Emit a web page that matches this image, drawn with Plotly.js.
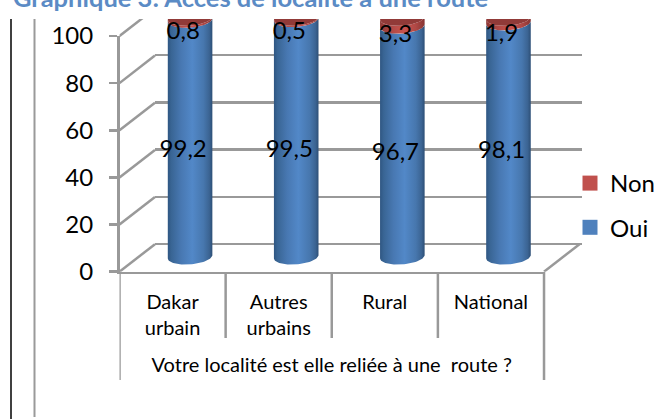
<!DOCTYPE html>
<html>
<head>
<meta charset="utf-8">
<script src="https://cdn.plot.ly/plotly-3.0.1.min.js"></script>
<style>html,body{margin:0;padding:0;background:#fff}</style>
</head>
<body>
<div id="chart" style="width:667px;height:419px"></div>
<script>
const categories = ["Dakar<br>urbain", "Autres<br>urbains", "Rural", "National"];
const oui = [99.2, 99.5, 96.7, 98.1];
const non = [0.8, 0.5, 3.3, 1.9];
const ouiLabels = ["99,2", "99,5", "96,7", "98,1"];
const nonLabels = ["0,8", "0,5", "3,3", "1,9"];
const yTicks = [0, 20, 40, 60, 80, 100];
const gridValues = [0, 20, 40, 60, 80];
const diagonalValues = [0, 20, 40, 60, 80, 100];

const W = 667, H = 419;
const fy = p => 1 - p / H;            // pixel row -> paper
const fx = p => p / W;                // pixel col -> paper
const FONT = "Lato, Carlito, sans-serif";
const GRID = "#999999";
const blueScale = [[0,"#2f5682"],[0.08,"#396594"],[0.3,"#4878b2"],[0.55,"#5288c8"],[0.8,"#4777ae"],[0.93,"#3b6493"],[1,"#2d4f76"]];
const redScale  = [[0,"#8e3836"],[0.3,"#b44a47"],[0.55,"#c8534f"],[0.8,"#b04845"],[1,"#863533"]];
const discColor = "#913a38";

// depth of the 3D box, in frame units
const depthX = 0.334, depthY = 11.67;
const cylShift = 0.165, cylA = 0.21, cylB = 3.2, cylTilt = 0.7;
const labelShift = -0.065, ouiDrop = 5.3, nonDrop = 6.0;

function halfEllipse(cx, v) {           // right -> left along the front edge
  const xs = [], ys = [];
  for (let k = 0; k <= 40; k++) {
    const t = Math.PI * k / 40;
    xs.push(cx + cylA * Math.cos(t));
    ys.push(v - cylB * Math.sin(t) + cylTilt * Math.cos(t));
  }
  return [xs, ys];
}
function sidePolygon(cx, v0, v1) {
  const [bx, by] = halfEllipse(cx, v0);
  const [tx, ty] = halfEllipse(cx, v1);
  return {x: [...bx.slice().reverse(), ...tx], y: [...by.slice().reverse(), ...ty]};
}
function disc(cx, v) {
  const [bx, by] = halfEllipse(cx, v);
  const uy = by.map((y, i) => y + 2 * cylB * Math.sin(Math.PI * i / 40));
  return {x: [...bx, ...bx.slice().reverse()], y: [...by, ...uy.slice().reverse()]};
}

const traces = [];
// main subplot (front plane with the value and category axes)
traces.push({type:"scatter", mode:"none", x:[0,1,2,3], y:oui, xaxis:"x", yaxis:"y", showlegend:false, hoverinfo:"skip"});
// back wall
traces.push({type:"scatter", mode:"none", x:[0], y:[0], xaxis:"x2", yaxis:"y2", showlegend:false, hoverinfo:"skip"});
// side wall and floor edges
const dx = [], dy = [];
diagonalValues.forEach(v => { dx.push(-0.5, -0.5 + depthX, null); dy.push(v, v + depthY, null); });
dx.push(3.5, 3.5 + depthX); dy.push(0, depthY);
traces.push({type:"scatter", mode:"lines", x:dx, y:dy, xaxis:"x3", yaxis:"y3",
  line:{color:GRID, width:2.5}, showlegend:false, hoverinfo:"skip"});

// cylinders
categories.forEach((c, i) => {
  const cx = i + cylShift;
  const s1 = sidePolygon(cx, 0, oui[i]);
  traces.push({type:"scatter", mode:"lines", x:s1.x, y:s1.y, xaxis:"x4", yaxis:"y4", fill:"toself",
    line:{width:0, color:"#4f81bd"}, fillgradient:{type:"horizontal", colorscale:blueScale},
    showlegend:false, hoverinfo:"skip"});
  const s2 = sidePolygon(cx, oui[i], oui[i] + non[i]);
  traces.push({type:"scatter", mode:"lines", x:s2.x, y:s2.y, xaxis:"x4", yaxis:"y4", fill:"toself",
    line:{width:0, color:"#c0504d"}, fillgradient:{type:"horizontal", colorscale:redScale},
    showlegend:false, hoverinfo:"skip"});
  const d = disc(cx, oui[i] + non[i]);
  traces.push({type:"scatter", mode:"lines", x:d.x, y:d.y, xaxis:"x4", yaxis:"y4", fill:"toself",
    line:{width:0, color:discColor}, fillcolor:discColor, showlegend:false, hoverinfo:"skip"});
});

// data labels
const labelX = categories.map((c, i) => i + cylShift + labelShift);
traces.push({type:"scatter", mode:"text", x:labelX, y:oui.map(v => v/2 - ouiDrop), text:ouiLabels,
  xaxis:"x4", yaxis:"y4", textposition:"middle center", cliponaxis:false,
  textfont:{family:FONT, size:24, color:"#000"}, showlegend:false, hoverinfo:"skip"});
traces.push({type:"scatter", mode:"text", x:labelX, y:oui.map((v,i) => v + non[i]/2 - nonDrop), text:nonLabels,
  xaxis:"x4", yaxis:"y4", textposition:"middle center", cliponaxis:false,
  textfont:{family:FONT, size:24, color:"#000"}, showlegend:false, hoverinfo:"skip"});

// legend entries
traces.push({type:"scatter", mode:"markers", name:"Non", x:[null], y:[null], xaxis:"x4", yaxis:"y4", legendgroup:"a",
  marker:{symbol:"square", size:15, color:"#c0504d"}, hoverinfo:"skip"});
traces.push({type:"scatter", mode:"markers", name:"Oui", x:[null], y:[null], xaxis:"x4", yaxis:"y4", legendgroup:"b",
  marker:{symbol:"square", size:15, color:"#4f81bd"}, hoverinfo:"skip"});

const dividerTop = 272, dividerInner = 338, dividerOuter = 380;
const shapes = [];
[0.5, 1.5, 2.5].forEach(x => shapes.push({type:"line", xref:"x3", yref:"paper", x0:x, x1:x, y0:fy(dividerTop), y1:fy(dividerInner), line:{color:GRID, width:2.5}}));
[-0.5, 3.5].forEach(x => shapes.push({type:"line", xref:"x3", yref:"paper", x0:x, x1:x, y0:fy(dividerTop), y1:fy(dividerOuter), line:{color:GRID, width:2.5}}));
// page rules at the left of the picture
shapes.push({type:"line", xref:"paper", yref:"paper", x0:fx(11), x1:fx(11), y0:fy(19), y1:fy(419), line:{color:"#000", width:1.5}});
shapes.push({type:"line", xref:"paper", yref:"paper", x0:fx(34.5), x1:fx(34.5), y0:fy(19), y1:fy(417), line:{color:"#9a9a9a", width:2}});

const frameRangeX = [-0.5, 3.855];
const hidden = {visible:false, fixedrange:true};
const layout = {
  width: W, height: H,
  margin: {l:0, r:0, t:0, b:0},
  paper_bgcolor: "#fff", plot_bgcolor: "rgba(0,0,0,0)",
  font: {family: FONT, color: "#000"},
  title: {text:"Graphique 3: Accès de localité à une route", x:fx(13), xanchor:"left",
          y:fy(7), yanchor:"bottom", font:{family:FONT, size:25.5, weight:700, color:"#5b8bc5"}},
  showlegend: true,
  legend: {x:fx(570), y:fy(161), xanchor:"left", yanchor:"top", traceorder:"grouped", tracegroupgap:10,
           font:{family:FONT, size:24, color:"#000"}, bgcolor:"rgba(0,0,0,0)", itemwidth:30},
  xaxis: {domain:[fx(119.5), fx(544)], range:[-0.5, 3.5], anchor:"y", tickmode:"array", tickvals:[0,1,2,3], ticktext:categories,
          showgrid:false, zeroline:false, showline:true, linecolor:GRID, linewidth:2.5, ticks:"", ticklabelstandoff:11,
          tickangle:0, tickfont:{family:FONT, size:20, color:"#000"},
          title:{text:"Votre localité est elle reliée à une\u00a0 route ?", standoff:20, font:{family:FONT, size:20, color:"#000"}}},
  yaxis: {domain:[fy(271.7), fy(36)], range:[0, 100], anchor:"x", tickmode:"array", tickvals:yTicks,
          showgrid:false, zeroline:false, showline:true, linecolor:GRID, linewidth:2.5, ticks:"outside", ticklen:8, tickwidth:2.5, tickcolor:GRID,
          ticklabelstandoff:11, tickfont:{family:FONT, size:24, color:"#000"}},
  xaxis2: {domain:[fx(155), fx(581.7)], range:[0, 1], anchor:"y2", ...hidden},
  yaxis2: {domain:[fy(248.7), fy(19)], range:[-2, 95.3], anchor:"x2", tickmode:"array", tickvals:gridValues, showticklabels:false,
           showgrid:true, gridcolor:GRID, gridwidth:2.5, zeroline:false, ticks:"", showline:false, fixedrange:true},
  xaxis3: {domain:[fx(119.5), fx(581.7)], range:frameRangeX, anchor:"y3", ...hidden},
  yaxis3: {domain:[fy(271.7), fy(19)], range:[0, 107.2], anchor:"x3", ...hidden},
  xaxis4: {domain:[fx(119.5), fx(581.7)], range:frameRangeX, anchor:"y4", ...hidden},
  yaxis4: {domain:[fy(268), fy(19)], range:[-4.73, 99.6], anchor:"x4", ...hidden},
  shapes: shapes
};
Plotly.newPlot("chart", traces, layout, {staticPlot:true, displayModeBar:false});
</script>
</body>
</html>
